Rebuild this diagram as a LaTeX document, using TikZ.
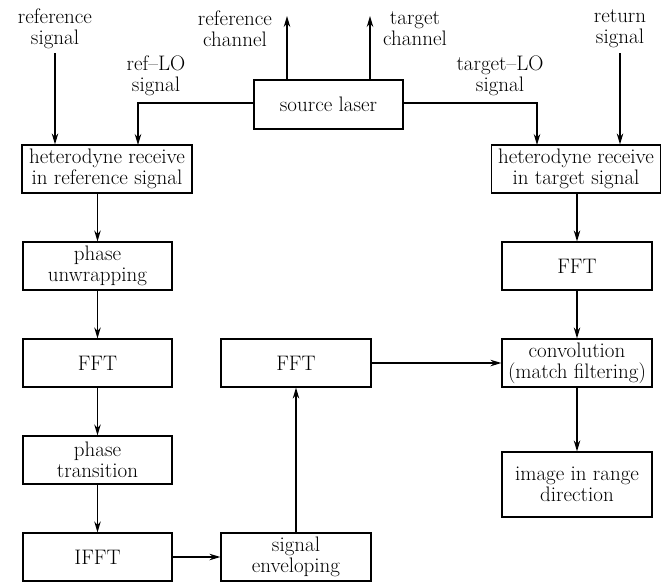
\documentclass[tikz,border=0pt]{standalone}
\usepackage{fontspec}
\usetikzlibrary{arrows.meta}
\begin{document}
\begin{tikzpicture}[x=1pt,y=-1pt,
  font=\fontsize{21}{21}\selectfont,
  box/.style={draw,line width=1.2pt,minimum width=149pt,minimum height=48pt,inner sep=0pt,align=center},
  lbl/.style={align=center,inner sep=2pt},
  arr/.style={line width=1.1pt,-{Stealth[length=11pt,width=6.5pt]}}]
\useasboundingbox (0,0) rectangle (661,582);
% boxes
\node[box,minimum width=149pt,minimum height=49pt] (laser) at (328.5,104.5) {source laser};
\node[box,minimum width=170pt] (hetR) at (107,169) {heterodyne receive\\in reference signal};
\node[box,minimum width=169pt] (hetT) at (576,169) {heterodyne receive\\in target signal};
\node[box] (pu) at (97.5,266) {phase\\unwrapping};
\node[box] (fftL) at (97.5,363) {FFT};
\node[box] (pt) at (97.5,460) {phase\\transition};
\node[box] (ifft) at (97.5,557) {IFFT};
\node[box,minimum width=150pt] (fftM) at (296,363) {FFT};
\node[box,minimum width=150pt] (env) at (296,557) {signal\\enveloping};
\node[box,minimum width=150pt] (fftR) at (577,266) {FFT};
\node[box,minimum width=150pt] (conv) at (577,363) {convolution\\(match filtering)};
\node[box,minimum width=150pt,minimum height=65pt] (img) at (577,484.5) {image in range\\direction};
% labels
\node[lbl] (refsig) at (55,29) {reference\\signal};
\node[lbl] (refch) at (235,29) {reference\\channel};
\node[lbl] (tgtch) at (415,29) {target\\channel};
\node[lbl] (retsig) at (620,29) {return\\signal};
\node[lbl] (reflo) at (156,76) {ref--LO\\signal};
\node[lbl] (tgtlo) at (500,76) {target--LO\\signal};
% coordinates
\coordinate (rcTop) at (287,16);
\coordinate (tcTop) at (370,16);
\coordinate (refIn) at (55,53);
\coordinate (retIn) at (620,53);
% connectors
\draw[arr] (refIn) -- (refIn |- hetR.north);
\draw[arr] (retIn) -- (retIn |- hetT.north);
\draw[arr] (rcTop |- laser.north) -- (rcTop);
\draw[arr] (tcTop |- laser.north) -- (tcTop);
\draw[arr] (laser.west |- 0,103) -| (138,145);
\draw[arr] (laser.east |- 0,103) -| (537,145);
\draw[arr] (hetR.south -| pu.north) -- (pu.north);
\draw[arr] (pu) -- (fftL);
\draw[arr] (fftL) -- (pt);
\draw[arr] (pt) -- (ifft);
\draw[arr] (ifft) -- (env);
\draw[arr] (env) -- (fftM);
\draw[arr] (fftM) -- (conv);
\draw[arr] (hetT.south -| fftR.north) -- (fftR.north);
\draw[arr] (fftR) -- (conv);
\draw[arr] (conv) -- (img);
\end{tikzpicture}
\end{document}
